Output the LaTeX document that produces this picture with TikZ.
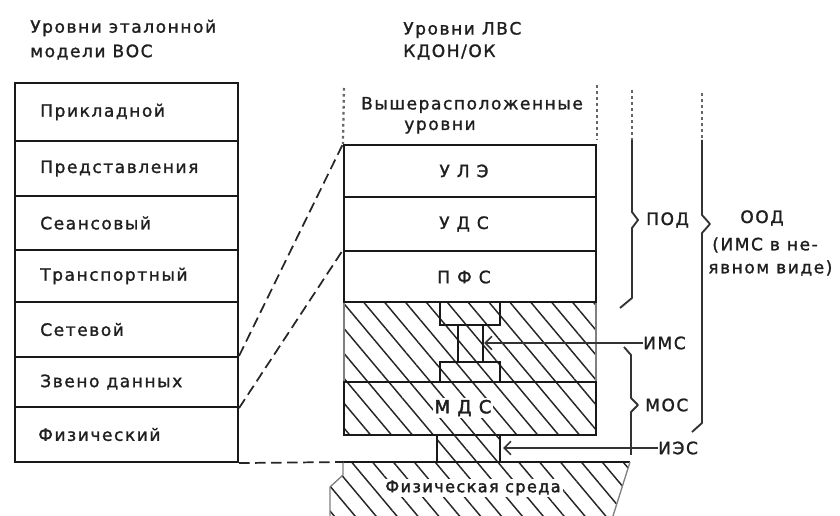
\documentclass[tikz,border=0pt]{standalone}
\usepackage{fontspec}
\setmainfont{DejaVu Sans}
\newfontfamily\lblfont[LetterSpace=9,FakeBold=1.3]{DejaVu Sans}
\newfontfamily\lblboldfont[LetterSpace=9,FakeBold=2.2]{DejaVu Sans}
\usetikzlibrary{fit,patterns.meta,arrows.meta}
\begin{document}
\begin{tikzpicture}[x=0.75pt,y=-0.75pt,
 txt/.style={font={\lblfont\fontsize{12.8}{15}\selectfont}, text=black!88, inner sep=0pt},
 box/.style={draw=black!90, line width=1.6pt, inner sep=0pt},
 thinbox/.style={draw=black!50, line width=1pt, inner sep=0pt},
 hatch/.style={pattern={Lines[angle=-50,distance=12pt,line width=1.1pt]}, pattern color=black!85},
 dashline/.style={draw=black!85, line width=1.3pt, dash pattern=on 8pt off 4pt},
 dotline/.style={draw=black!60, line width=1.7pt, dash pattern=on 2pt off 2.5pt},
 bracepath/.style={draw=black!80, line width=1.4pt, line join=round},
 ptr/.style={draw=black!80, line width=1.3pt, -{Straight Barb[length=5pt,width=10pt]}},
]
\useasboundingbox (0,0) rectangle (840,516);

% headers
\node[txt, anchor=west] (h1) at (30,28) {Уровни эталонной};
\node[txt, anchor=west] (h2) at (30,52) {модели ВОС};
\node[txt, anchor=west] (h3) at (403,30) {Уровни ЛВС};
\node[txt, anchor=west] (h4) at (403,52) {КДОН/ОК};

% left stack (OSI)
\node[box, fit={(15,83)(238,141)}] (o7) {};
\node[box, fit={(15,141)(238,196)}] (o6) {};
\node[box, fit={(15,196)(238,250)}] (o5) {};
\node[box, fit={(15,250)(238,302)}] (o4) {};
\node[box, fit={(15,302)(238,357)}] (o3) {};
\node[box, fit={(15,357)(238,407)}] (o2) {};
\node[box, fit={(15,407)(238,462)}] (o1) {};
\node[txt, anchor=west] (t7) at (40,112) {Прикладной};
\node[txt, anchor=west] (t6) at (40,168.5) {Представления};
\node[txt, anchor=west] (t5) at (40,223) {Сеансовый};
\node[txt, anchor=west] (t4) at (40,276) {Транспортный};
\node[txt, anchor=west] (t3) at (40,329.5) {Сетевой};
\node[txt, anchor=west] (t2) at (40,382) {Звено данных};
\node[txt, anchor=west] (t1) at (38,434.5) {Физический};

% upper levels (dotted)
\node[txt] (up1) at (472,105) {Вышерасположенные};
\node[txt] (up2) at (440,127) {уровни};
\coordinate (dl) at (344,88);
\coordinate (dr1) at (597,85);
\coordinate (dr2) at (597,140);

% hatched middle region
\fill[hatch] (344,302) rectangle (596,382);
\draw[thinbox] (344,302) -- (344,382);
\draw[thinbox] (596,302) -- (596,382);

% right stack (LAN)
\node[box, fit={(344,145)(596,197)}] (r1) {};
\node[box, fit={(344,197)(596,251)}] (r2) {};
\node[box, fit={(344,251)(596,302)}] (r3) {};
\node[txt] (tr1) at (464,171) {У Л Э};
\node[txt] (tr2) at (464,224) {У Д С};
\node[txt] (tr3) at (464,277) {П Ф С};
\draw[dotline] (dl) -- (r1.north west);
\draw[dotline] (dr1) -- (dr2);

% interface connector (I-shape)
\node[box, fit={(440,302)(500,325)}] (c1) {};
\node[box, fit={(458,325)(483,362)}] (c2) {};
\node[box, fit={(440,362)(500,382)}] (c3) {};

% MDS
\fill[hatch] (344,382) rectangle (596,435);
\node[box, fit={(344,382)(596,435)}] (mds) {};
\node[txt, font={\lblboldfont\fontsize{13.5}{15}\selectfont}, fill=white, inner sep=1.5pt] (tmds) at (463,408) {М Д С};

% small box under MDS
\fill[hatch] (437,435) rectangle (500,462);
\node[box, fit={(437,435)(500,462)}] (ies box) {};

% physical medium
\fill[hatch] (343,462) -- (630,462) -- (613,516) -- (330,516) -- (330,487) -- (343,475) -- cycle;
\draw[box] (343,462) -- (630,462);
\draw[thinbox] (630,462) -- (613,516);
\draw[thinbox] (343,462) -- (343,475) -- (330,487) -- (330,516);
\coordinate (phystl) at (343,462);
\node[txt, fill=white, inner sep=1.5pt, font={\lblboldfont\fontsize{12}{14}\selectfont}] (tphys) at (473,488) {Физическая среда};

% dashed mapping lines
\draw[dashline] (o2.north east) -- (r1.north west);
\draw[dashline] (o2.south east) -- (r3.north west);
\draw[dashline] (o1.south east) -- (phystl);

% pointer labels
\node[txt, anchor=west] (ims) at (643,343) {ИМС};
\coordinate (imsend) at (484,343);
\draw[ptr] (ims.west) -- (imsend);
\node[txt, anchor=west] (ies) at (658,448) {ИЭС};
\coordinate (iesend) at (503,448);
\draw[ptr] (ies.west) -- (iesend);

% braces
\draw[dotline] (632,90) -- (632,140);
\draw[bracepath] (632,140) -- (632,212) -- (638,220) -- (632,228) -- (632,298) -- (620,308);
\node[txt, anchor=west] (pod) at (646,220) {ПОД};

\draw[dotline] (702,93) -- (702,140);
\draw[bracepath] (702,140) -- (702,215) -- (710,224) -- (702,233) -- (702,423) -- (692,432);
\node[txt] (ood) at (762,218) {ООД};
\node[txt, anchor=west] (ood2) at (712,245) {(ИМС в не-};
\node[txt, anchor=west] (ood3) at (708,268) {явном виде)};

\draw[bracepath] (624,347) -- (631,355) -- (631,398) -- (638,405) -- (631,412) -- (631,455);
\node[txt, anchor=west] (mos) at (645,405) {МОС};
\end{tikzpicture}
\end{document}
